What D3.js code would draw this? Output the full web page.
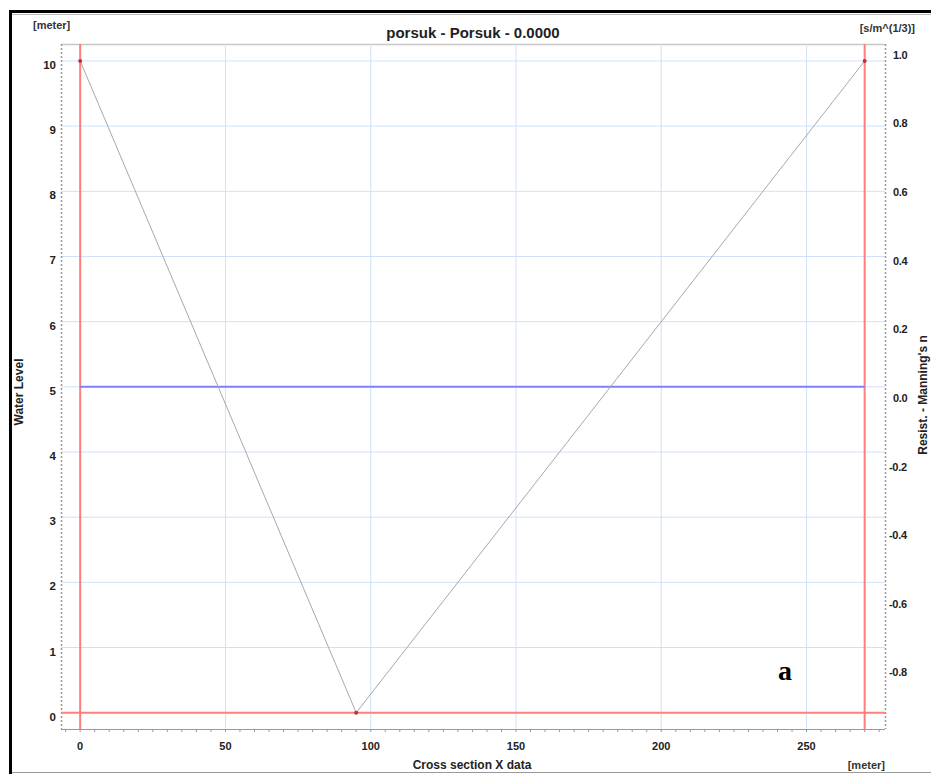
<!DOCTYPE html>
<html><head><meta charset="utf-8">
<script src="https://cdn.jsdelivr.net/npm/d3@7"></script>
<style>
html,body{margin:0;padding:0;background:#fff;}
svg{display:block;font-family:"Liberation Sans",Arial,sans-serif;}
</style></head>
<body>
<svg id="chart" width="931" height="774"></svg>
<script>
// ---- data ----
const sectionX = [0, 95, 270];
const sectionZ = [10, 0, 10];
const waterLevelX = [0, 270];
const waterLevelZ = [5, 5];
const bankMarkersX = [0, 270];
const bedLevel = 0;
const xTicks = [0, 50, 100, 150, 200, 250];
const yTicks = [0, 1, 2, 3, 4, 5, 6, 7, 8, 9, 10];
const rightTicks = [-0.8, -0.6, -0.4, -0.2, 0.0, 0.2, 0.4, 0.6, 0.8, 1.0];
const titleText = "porsuk - Porsuk - 0.0000";

const svg = d3.select("#chart");
const L = 61, R = 885, T = 44, B = 729;
const x = d3.scaleLinear().domain([-6.6, 277]).range([L, R]);
const yL = d3.scaleLinear().domain([-0.25, 10.26]).range([B, T]);
const yR = d3.scaleLinear().domain([-0.976, 1.02]).range([B, T]);

// outer frame
svg.append("rect").attr("x", 10.5).attr("y", 11.5).attr("width", 940).attr("height", 770)
  .attr("fill", "none").attr("stroke", "#000").attr("stroke-width", 3);
svg.append("line").attr("x1", 12).attr("x2", 931).attr("y1", 14.5).attr("y2", 14.5)
  .attr("stroke", "#bbb").attr("stroke-width", 1);
svg.append("line").attr("x1", 12).attr("x2", 931).attr("y1", 772.5).attr("y2", 772.5)
  .attr("stroke", "#999").attr("stroke-width", 1);

// plot border top
svg.append("line").attr("x1", L).attr("x2", R).attr("y1", T + 0.5).attr("y2", T + 0.5)
  .attr("stroke", "#c8c8c8").attr("stroke-width", 1.5);

// gridlines
const grid = svg.append("g");
grid.selectAll(".gx").data(xTicks).join("line")
  .attr("x1", d => x(d)).attr("x2", d => x(d)).attr("y1", T).attr("y2", B)
  .attr("stroke", "#cfe1fa").attr("stroke-width", 1);
grid.selectAll(".gy").data(yTicks).join("line")
  .attr("x1", L).attr("x2", R).attr("y1", d => yL(d)).attr("y2", d => yL(d))
  .attr("stroke", "#cfe1fa").attr("stroke-width", 1);

// axes
const minorX = d3.range(-5, 276, 5);
const axB = svg.append("g");
axB.append("line").attr("x1", L).attr("x2", R).attr("y1", B + 0.5).attr("y2", B + 0.5)
  .attr("stroke", "#999").attr("stroke-width", 1);
axB.selectAll(".mt").data(minorX).join("line")
  .attr("x1", d => x(d)).attr("x2", d => x(d)).attr("y1", B).attr("y2", B + 3)
  .attr("stroke", "#999");
axB.selectAll(".lb").data(xTicks).join("text")
  .attr("x", d => x(d)).attr("y", B + 21).attr("text-anchor", "middle")
  .attr("font-size", 11).attr("font-weight", "bold").attr("fill", "#222").text(d => d);

const axLeft = svg.append("g");
axLeft.append("line").attr("x1", L + 0.5).attr("x2", L + 0.5).attr("y1", T).attr("y2", B)
  .attr("stroke", "#999").attr("stroke-width", 1.5).attr("stroke-dasharray", "2,2");
axLeft.selectAll(".lb").data(yTicks).join("text")
  .attr("x", L - 5).attr("y", d => yL(d) + 4).attr("dy", "0.35em").attr("text-anchor", "end")
  .attr("font-size", 11.5).attr("font-weight", "bold").attr("fill", "#222").text(d => d);

const axRight = svg.append("g");
axRight.append("line").attr("x1", R + 0.5).attr("x2", R + 0.5).attr("y1", T).attr("y2", B)
  .attr("stroke", "#999").attr("stroke-width", 1.5).attr("stroke-dasharray", "2,2");
axRight.selectAll(".lb").data(rightTicks).join("text")
  .attr("x", d => d < 0 ? R + 4 : R + 8).attr("y", d => yR(d) + 4).attr("dy", "0.35em")
  .attr("font-size", 11).attr("font-weight", "bold").attr("fill", "#222")
  .attr("letter-spacing", "-0.3").text(d => d3.format(".1f")(d).replace("\u2212", "-"));

// red marker lines
svg.selectAll(".vred").data(bankMarkersX).join("line")
  .attr("x1", d => x(d)).attr("x2", d => x(d)).attr("y1", T).attr("y2", B)
  .attr("stroke", "#ff7f7f").attr("stroke-width", 2);
svg.append("line").attr("x1", L).attr("x2", R).attr("y1", yL(bedLevel)).attr("y2", yL(bedLevel))
  .attr("stroke", "#ff7f7f").attr("stroke-width", 2);

// water level
svg.append("path").datum(d3.zip(waterLevelX, waterLevelZ))
  .attr("d", d3.line().x(d => x(d[0])).y(d => yL(d[1])))
  .attr("stroke", "#7f7fff").attr("stroke-width", 2).attr("fill", "none");

// cross section
const pts = d3.zip(sectionX, sectionZ);
svg.append("path").datum(pts)
  .attr("d", d3.line().x(d => x(d[0])).y(d => yL(d[1])))
  .attr("stroke", "#a8a8a8").attr("stroke-width", 1).attr("fill", "none");
svg.selectAll(".pt").data(pts).join("circle")
  .attr("cx", d => x(d[0])).attr("cy", d => yL(d[1])).attr("r", 2)
  .attr("fill", "#c0303a");

// texts
svg.append("text").attr("x", 473).attr("y", 38).attr("text-anchor", "middle")
  .attr("font-size", 15).attr("font-weight", "bold").attr("fill", "#222").text(titleText);
svg.append("text").attr("x", 33).attr("y", 29)
  .attr("font-size", 11).attr("font-weight", "bold").attr("fill", "#333").text("[meter]");
svg.append("text").attr("x", 915).attr("y", 32).attr("text-anchor", "end")
  .attr("font-size", 11).attr("font-weight", "bold").attr("fill", "#333").text("[s/m^(1/3)]");
svg.append("text").attr("transform", "translate(23,392) rotate(-90)").attr("text-anchor", "middle")
  .attr("font-size", 12).attr("font-weight", "bold").attr("fill", "#222").text("Water Level");
svg.append("text").attr("transform", "translate(927,395) rotate(-90)").attr("text-anchor", "middle")
  .attr("font-size", 12).attr("font-weight", "bold").attr("fill", "#222").text("Resist. - Manning's n");
svg.append("text").attr("x", 472).attr("y", 769).attr("text-anchor", "middle")
  .attr("font-size", 12).attr("font-weight", "bold").attr("fill", "#222").text("Cross section X data");
svg.append("text").attr("x", 885).attr("y", 769).attr("text-anchor", "end")
  .attr("font-size", 11).attr("font-weight", "bold").attr("fill", "#333").text("[meter]");
svg.append("text").attr("x", 785).attr("y", 680).attr("text-anchor", "middle")
  .attr("font-family", "'Liberation Serif','Times New Roman',serif")
  .attr("font-size", 28).attr("font-weight", "bold").attr("fill", "#000").text("a");
</script>
</body></html>
